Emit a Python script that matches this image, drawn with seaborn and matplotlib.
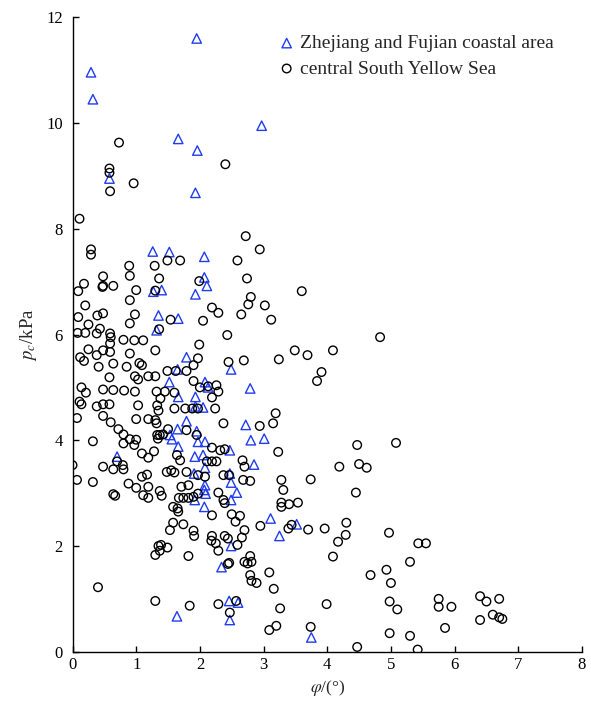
import numpy as np
import pandas as pd
import matplotlib
matplotlib.use("Agg")
import matplotlib.pyplot as plt
import seaborn as sns

sns.set_style("ticks")
plt.rcParams["font.family"] = ["Liberation Serif", "DejaVu Serif"]
plt.rcParams["mathtext.fontset"] = "stix"

# Zhejiang and Fujian coastal area: friction angle (deg) and cohesion pc (kPa)
zf_phi = [0.29, 0.32, 1.95, 1.66, 1.96, 2.97, 0.58, 1.93,
          1.26, 1.52, 2.07, 2.07, 2.11, 1.40, 1.93, 1.27,
          1.35, 1.32, 1.66, 1.79, 2.49, 1.65, 1.52, 2.08, 2.13, 2.79, 1.66, 1.93, 1.93, 2.05,
          0.70,
          1.79, 1.65, 1.53, 1.56, 1.95, 2.72, 2.80, 1.97, 2.08, 2.47, 1.66, 1.92, 2.05, 2.08,
          1.91, 2.47, 2.49, 2.08, 2.07, 2.09, 2.58, 2.49, 1.92, 2.07,
          3.01, 2.85,
          2.49, 2.34, 2.46, 2.60, 2.47, 1.64,
          3.11, 3.25, 3.52, 3.75]
zf_pc = [10.96, 10.45, 11.60, 9.70, 9.48, 9.95, 8.95, 8.68,
         7.57, 7.56, 7.47, 7.08, 6.92, 6.84, 6.76, 6.81,
         6.36, 6.08, 6.30, 5.57, 5.34, 5.34, 5.10, 5.10, 5.00, 4.98, 4.82, 4.82, 4.64, 4.62,
         3.69,
         4.36, 4.21, 4.10, 4.02, 4.17, 4.29, 4.00, 3.97, 3.97, 3.81, 3.88, 3.69, 3.72, 3.48,
         3.37, 3.37, 3.20, 3.15, 3.06, 2.99, 3.01, 2.87, 2.87, 2.74,
         4.03, 3.54,
         2.00, 1.60, 0.96, 0.93, 0.60, 0.67,
         2.52, 2.19, 2.41, 0.27]

# central South Yellow Sea
sy_phi = [0.73, 0.58, 0.58, 0.96, 2.40, 0.59,
          0.11, 0.29, 0.29, 0.89, 0.90, 1.29, 1.36, 0.48, 0.48, 0.47, 0.64, 0.18, 0.09, 1.00, 1.30, 0.90,
          2.72, 1.49, 1.69, 2.59, 1.99, 2.74, 2.80, 2.94, 3.60,
          0.20, 0.09, 0.39, 0.48, 0.98, 0.90, 0.25, 0.08, 0.20, 0.38, 0.43, 0.59, 0.60, 0.80, 0.97, 1.11,
          0.59, 1.30, 0.25, 0.48, 0.59, 0.38, 0.90, 0.12, 0.18, 0.64, 0.41, 1.05, 1.09, 0.85, 0.58, 0.98,
          1.03, 1.19, 1.30, 0.14, 0.21, 0.48, 0.64, 0.81, 0.98, 1.32, 0.11, 0.14, 0.38, 0.48, 0.58, 1.03,
          0.07, 0.48, 0.60, 1.00, 1.19, 1.30, 1.32, 0.72, 0.80, 0.32, 0.90, 1.00, 0.80, 0.97, 1.33, 1.28,
          1.09, 1.19, 0.70, 0.00, 0.48, 0.64, 0.79, 0.80, 1.09, 1.17, 0.07, 0.32, 0.88, 1.00, 1.19, 0.64,
          0.67, 1.11, 1.19,
          0.40, 1.30, 1.35, 1.30,
          2.19, 2.29, 2.76, 2.65, 1.54, 2.05, 1.36, 2.43, 1.99, 1.97, 2.45, 2.69, 1.90, 1.49, 1.62, 1.79,
          1.90, 2.00, 2.13, 2.26, 2.29, 1.45, 1.60, 1.38, 2.19, 1.60, 1.77, 1.88, 1.97, 2.24, 1.33,
          1.35, 1.50, 1.37, 1.42, 1.34, 1.79, 1.95, 2.37, 2.19, 2.32, 2.39, 1.64, 1.69, 2.11, 2.19, 2.26,
          2.67, 2.70, 1.48, 1.55, 1.60, 1.79, 1.97, 2.08, 2.37, 2.46, 2.68, 2.79, 1.71, 1.82, 1.37, 1.40,
          1.67, 1.74, 1.82, 1.90, 1.97, 2.29, 2.37, 2.39, 1.58, 1.65, 1.66,
          2.19, 2.50, 2.63, 2.56, 1.58, 1.53, 1.74, 1.90, 1.91, 2.19, 2.18, 2.25, 2.29, 2.39, 2.44, 2.70,
          2.66, 2.59, 1.39, 1.37, 1.49, 1.82, 2.44, 2.46, 2.70, 2.75, 2.81, 2.79, 2.79, 2.81, 1.84, 2.29,
          2.57, 2.47,
          3.02, 3.12, 3.49, 3.69, 4.09, 3.24, 3.91, 3.84,
          3.19, 2.94, 3.15, 3.23, 4.19, 4.47, 4.50, 4.62, 4.45, 3.28, 3.31, 3.74, 3.28, 3.28, 3.40, 3.54,
          2.95, 3.39, 3.44, 3.70, 3.96, 4.30, 4.29, 4.17, 4.09, 2.89, 3.09, 3.16, 3.26, 3.09, 3.20, 3.99,
          3.74, 4.47,
          4.83, 5.08, 4.97, 5.43, 5.55, 4.68, 4.93, 5.00, 5.30, 4.98, 5.10, 4.98, 5.30, 5.42, 5.75, 5.75,
          5.85, 5.95, 6.40, 6.50, 6.40, 6.60, 6.70, 6.75, 6.70]
sy_pc = [9.63, 9.14, 9.06, 8.86, 9.22, 8.71,
         8.19, 7.61, 7.51, 7.30, 7.11, 7.30, 7.06, 7.10, 6.92, 6.90, 6.92, 6.96, 6.82, 6.84, 6.83, 6.65,
         7.86, 7.40, 7.40, 7.40, 7.01, 7.06, 6.71, 7.61, 6.82,
         6.55, 6.33, 6.36, 6.40, 6.38, 6.21, 6.19, 6.03, 6.03, 6.02, 6.11, 6.02, 5.95, 5.90, 5.89, 5.89,
         5.83, 5.70, 5.72, 5.70, 5.67, 5.61, 5.64, 5.57, 5.50, 5.45, 5.39, 5.46, 5.42, 5.39, 5.19, 5.21,
         5.15, 5.21, 5.21, 5.00, 4.90, 4.96, 4.95, 4.94, 4.92, 4.92, 4.73, 4.68, 4.64, 4.68, 4.68, 4.66,
         4.42, 4.46, 4.34, 4.40, 4.40, 4.38, 4.32, 4.21, 4.11, 3.98, 4.02, 4.01, 3.94, 3.91, 4.10, 3.79,
         3.75, 3.67, 3.60, 3.53, 3.50, 3.45, 3.53, 3.45, 3.31, 3.35, 3.25, 3.21, 3.18, 3.10, 3.12, 2.98,
         2.95, 2.96, 2.91,
         1.22, 1.83, 2.00, 0.96,
         6.51, 6.41, 6.57, 6.38, 6.28, 6.26, 6.10, 5.99, 5.81, 5.55, 5.48, 5.51, 5.42, 5.31, 5.31, 5.31,
         5.12, 5.00, 5.02, 5.04, 4.92, 4.92, 4.90, 4.79, 4.81, 4.60, 4.60, 4.60, 4.60, 4.60, 4.66,
         4.56, 4.21, 4.10, 4.11, 4.03, 4.19, 4.10, 4.32, 3.86, 3.81, 3.83, 3.72, 3.62, 3.60, 3.60, 3.60,
         3.62, 3.50, 3.40, 3.43, 3.39, 3.40, 3.34, 3.31, 3.34, 3.34, 3.25, 3.23, 3.12, 3.15, 3.04, 2.95,
         2.91, 2.91, 2.91, 2.93, 2.99, 3.01, 2.87, 2.81, 2.74, 2.71, 2.65,
         2.58, 2.60, 2.57, 2.46, 2.44, 2.30, 2.41, 2.29, 2.19, 2.19, 2.10, 2.05, 1.91, 2.19, 2.14, 2.30,
         2.16, 2.02, 2.02, 1.91, 1.97, 1.81, 1.66, 1.68, 1.70, 1.67, 1.70, 1.81, 1.45, 1.34, 0.87, 0.90,
         0.96, 0.74,
         6.55, 6.28, 5.70, 5.61, 5.70, 5.53, 5.29, 5.12,
         4.51, 4.27, 4.32, 3.78, 3.50, 3.91, 3.55, 3.48, 3.01, 3.25, 3.06, 3.26, 2.82, 2.74, 2.79, 2.82,
         2.38, 2.33, 2.40, 2.31, 2.33, 2.44, 2.21, 2.08, 1.80, 1.30, 1.50, 1.19, 0.82, 0.41, 0.49, 0.90,
         0.47, 0.09,
         5.95, 3.95, 2.25, 2.05, 2.05, 1.45, 1.55, 1.30, 1.70, 0.95, 0.80, 0.35, 0.30, 0.04, 1.00, 0.85,
         0.45, 0.85, 1.05, 0.95, 0.60, 0.70, 0.65, 0.62, 1.00]

zf_label = "Zhejiang and Fujian coastal area"
sy_label = "central South Yellow Sea"

fig = plt.figure(figsize=(5.91, 7.09), dpi=100)
ax = fig.add_axes([0.1227, 0.0808, 0.862, 0.8948])

sns.scatterplot(x=zf_phi, y=zf_pc, marker="^", s=46, facecolor="none",
                edgecolor="#1f3cf0", linewidth=1.0, ax=ax, label=zf_label)
sns.scatterplot(x=sy_phi, y=sy_pc, marker="o", s=38, facecolor="none",
                edgecolor="black", linewidth=1.0, ax=ax, label=sy_label)

ax.set_xlim(0, 8)
ax.set_ylim(0, 12)
ax.set_xticks(range(0, 9))
ax.set_yticks(range(0, 13, 2))
ax.tick_params(direction="in", length=4, width=1, labelsize=12, colors="black")
ax.tick_params(axis="y", pad=7)
for side in ("top", "right"):
    ax.spines[side].set_visible(False)
for side in ("left", "bottom"):
    ax.spines[side].set_linewidth(1.0)
    ax.spines[side].set_color("black")

ax.set_xlabel(r"$\varphi$/(°)", fontsize=12.5, labelpad=4)
ax.set_ylabel(r"$p_c$/kPa", fontsize=13.5, labelpad=5)

ax.legend(loc="upper left", bbox_to_anchor=(0.386, 0.985), frameon=False,
          fontsize=14, handlelength=1.0, handletextpad=0.2, labelspacing=0.4,
          borderaxespad=0.0)

fig.savefig("out.png", dpi=100)
